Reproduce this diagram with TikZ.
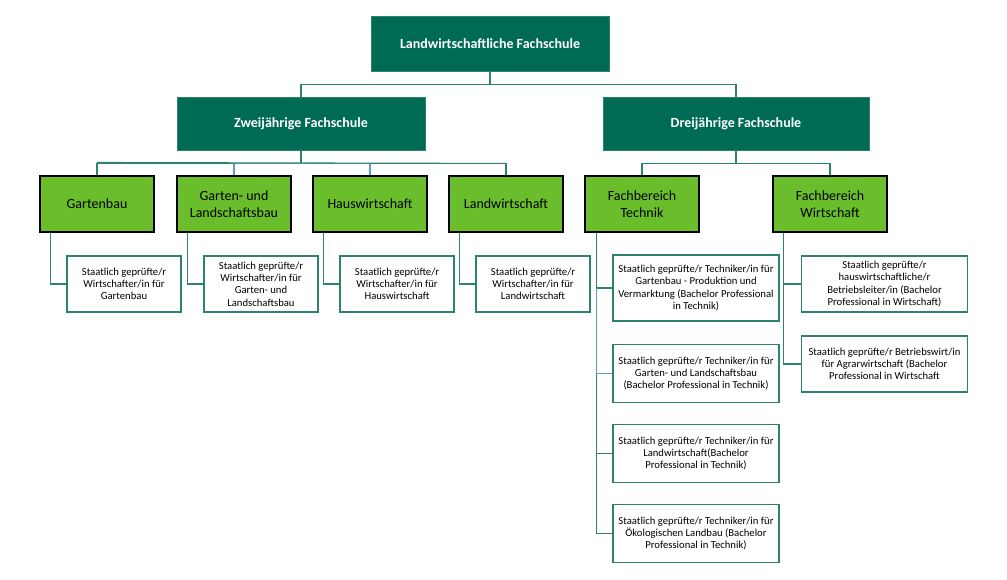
\documentclass[tikz,border=0pt]{standalone}
\usepackage{fontspec}
\setmainfont{Carlito}
\usepackage{tikz}
\usetikzlibrary{calc}
\definecolor{dgreen}{RGB}{0,107,84}
\definecolor{lgreen}{RGB}{106,189,43}
\definecolor{line}{RGB}{46,130,110}
\definecolor{lblue}{RGB}{91,155,213}
\tikzset{
  head/.style={draw=line, fill=dgreen, text=white, font=\bfseries\fontsize{10.5}{12}\selectfont, align=center, inner sep=0pt},
  area/.style={draw=black, thick, fill=lgreen, font=\fontsize{10.5}{12.5}\selectfont, align=center, inner sep=0pt, minimum width=85.5pt, minimum height=42pt},
  leaf/.style={draw=line, thick, fill=white, font=\fontsize{8}{9.2}\selectfont, align=center, inner sep=0.5pt},
  conn/.style={draw=line, thick},
  bconn/.style={draw=lblue, thick},
}
\begin{document}
\begin{tikzpicture}[x=0.75pt, y=-0.75pt]

        \useasboundingbox (0,0) rectangle (1007,579);

        \node[head, minimum width=178.5pt, minimum height=41pt] (top) at (490,43.5) {Landwirtschaftliche Fachschule};
        \node[head, minimum width=186pt, minimum height=40pt] (zwei) at (301,123.5) {Zweijährige Fachschule};
        \node[head, minimum width=199.5pt, minimum height=40pt] (drei) at (736,123.5) {Dreijährige Fachschule};

        \node[area] (garten) at (97,204) {Gartenbau};
        \node[area] (gala) at (234,204) {Garten- und\\Landschaftsbau};
        \node[area] (haus) at (370,204) {Hauswirtschaft};
        \node[area] (land) at (506,204) {Landwirtschaft};
        \node[area] (technik) at (642,204) {Fachbereich\\Technik};
        \node[area] (wirtschaft) at (830,204) {Fachbereich\\Wirtschaft};

        % Zweijaehrige
        \node[leaf, minimum width=85.5pt, minimum height=42pt] (lgarten) at (124,284) {Staatlich geprüfte/r\\Wirtschafter/in für\\Gartenbau};
        \node[leaf, minimum width=85.5pt, minimum height=42pt] (lgala) at (261,284) {Staatlich geprüfte/r\\Wirtschafter/in für\\Garten- und\\Landschaftsbau};
        \node[leaf, minimum width=85.5pt, minimum height=42pt] (lhaus) at (397,284) {Staatlich geprüfte/r\\Wirtschafter/in für\\Hauswirtschaft};
        \node[leaf, minimum width=85.5pt, minimum height=42pt] (lland) at (533,284) {Staatlich geprüfte/r\\Wirtschafter/in für\\Landwirtschaft};

        % Technik
        \node[leaf, minimum width=124.5pt, minimum height=49.5pt] (t1) at (696,288) {Staatlich geprüfte/r Techniker/in für\\Gartenbau - Produktion und\\Vermarktung (Bachelor Professional\\in Technik)};
        \node[leaf, minimum width=124.5pt, minimum height=43pt] (t2) at (696,373.5) {Staatlich geprüfte/r Techniker/in für\\Garten- und Landschaftsbau\\(Bachelor Professional in Technik)};
        \node[leaf, minimum width=124.5pt, minimum height=43pt] (t3) at (696,453.5) {Staatlich geprüfte/r Techniker/in für\\Landwirtschaft(Bachelor\\Professional in Technik)};
        \node[leaf, minimum width=124.5pt, minimum height=43pt] (t4) at (696,533.5) {Staatlich geprüfte/r Techniker/in für\\Ökologischen Landbau (Bachelor\\Professional in Technik)};

        % Wirtschaft
        \node[leaf, minimum width=124pt, minimum height=42pt] (w1) at (884.5,284) {Staatlich geprüfte/r\\hauswirtschaftliche/r\\Betriebsleiter/in (Bachelor\\Professional in Wirtschaft)};
        \node[leaf, minimum width=124pt, minimum height=42pt] (w2) at (884.5,364) {Staatlich geprüfte/r Betriebswirt/in\\für Agrarwirtschaft (Bachelor\\Professional in Wirtschaft};

        % connectors
        \draw[conn] (top.south) -- ++(0,13) coordinate (tj);
        \draw[conn] (zwei.north) |- (tj) -| (drei.north);
        \draw[conn] (zwei.south) -- ++(0,13) coordinate (zj);
        \draw[conn] (zj) -| (garten.north);
        \draw[conn] (zj) -| (land.north);
        \draw[bconn] (zj) -| (gala.north);
        \draw[bconn] (zj) -| (haus.north);
        \draw[conn] (garten.north) ++(0,-13) -- (zj -| land.north);
        \draw[conn] (drei.south) -- ++(0,13) coordinate (dj);
        \draw[conn] (dj) -| (technik.north);
        \draw[conn] (dj) -| (wirtschaft.north);

        \foreach \a/\l in {garten/lgarten, gala/lgala, haus/lhaus, land/lland}
            \draw[conn] ($(\a.south west)+(11,0)$) |- (\l.west);

        \coordinate (tt) at ($(technik.south west)+(12,0)$);
        \draw[conn] (tt) |- (t1.west);
        \draw[bconn] (tt |- t1.west) |- (t2.west);
        \draw[conn] (tt |- t2.west) |- (t4.west);
        \draw[conn] (tt |- t3.west) -- (t3.west);

        \coordinate (wt) at ($(wirtschaft.south west)+(11,0)$);
        \draw[conn] (wt) |- (w2.west);
        \draw[conn] (wt |- w1.west) -- (w1.west);

\end{tikzpicture}
\end{document}
